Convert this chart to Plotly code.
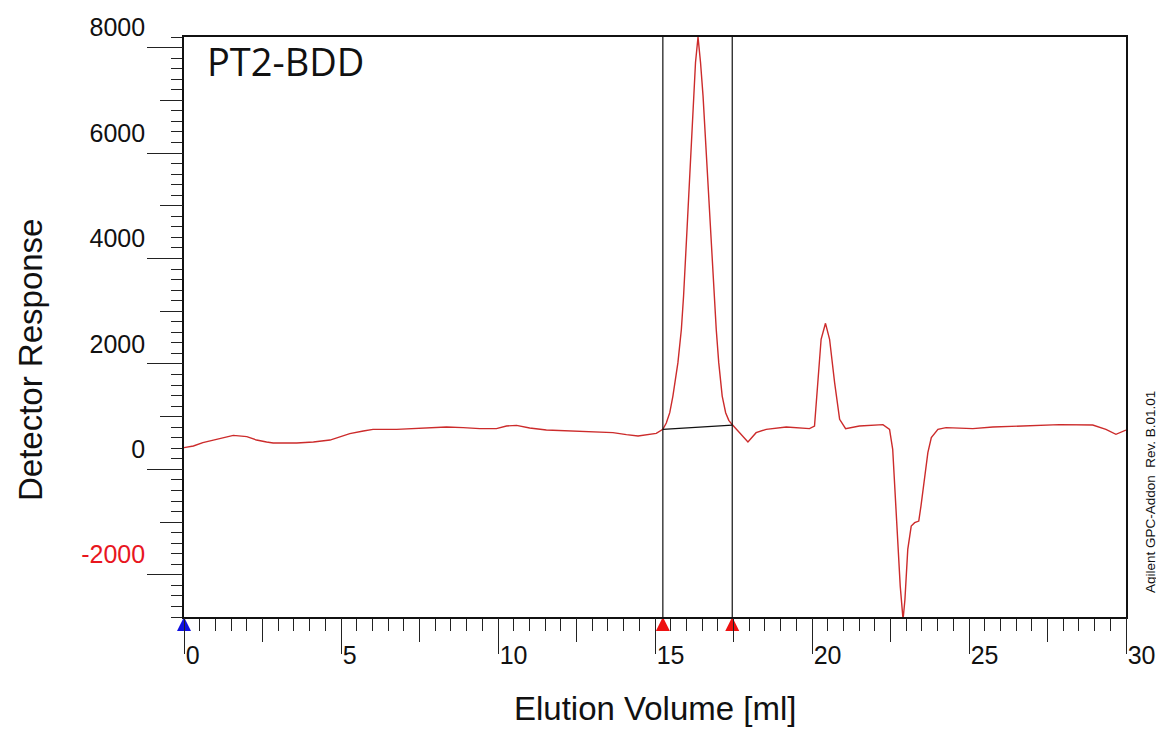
import plotly.graph_objects as go

# ---- data ----
elution_ml = [0.0, 0.3, 0.6, 0.93, 1.25, 1.57, 2.0, 2.31, 2.63, 2.84, 3.59, 4.12, 4.65, 4.97,
              5.28, 5.71, 6.02, 6.77, 7.72, 8.36, 8.89, 9.42, 9.95, 10.27, 10.59, 11.01, 11.54,
              12.39, 13.03, 13.66, 14.09, 14.46, 15.04, 15.25, 15.36, 15.47, 15.57, 15.73, 15.84,
              15.91, 16.02, 16.12, 16.23, 16.29, 16.37, 16.45, 16.53, 16.65, 16.77, 16.88, 16.95,
              17.03, 17.14, 17.25, 17.35, 17.45, 17.96, 18.22, 18.54, 19.18, 19.92, 20.08, 20.19,
              20.29, 20.43, 20.56, 20.72, 20.88, 21.07, 21.51, 22.26, 22.47, 22.57, 22.66, 22.73,
              22.81, 22.90, 22.96, 23.05, 23.16, 23.27, 23.40, 23.47, 23.58, 23.69, 23.80, 24.01,
              24.27, 25.12, 25.76, 26.82, 27.88, 28.94, 29.36, 29.68, 30.0]
response = [412, 443, 506, 556, 601, 645, 620, 556, 518, 499, 499, 518, 556, 620,
            677, 727, 759, 759, 791, 803, 791, 772, 772, 822, 835, 784, 746,
            727, 708, 696, 658, 632, 683, 760, 880, 1075, 1391, 2024, 2657,
            3289, 4554, 5820, 7084, 7717, 8200, 7717, 7084, 5820, 4554, 3289, 2657,
            2024, 1391, 1075, 930, 854, 518, 696, 759, 803, 772, 822, 1645,
            2467, 2770, 2467, 1645, 949, 772, 822, 848, 759, 380, -569, -1518,
            -2214, -2850, -2467, -1518, -1075, -1012, -980, -696, -190, 316, 601, 759,
            791, 772, 803, 822, 848, 841, 759, 664, 746]

integration_limits = [15.25, 17.46]
baseline_response = [760, 840]
start_marker = [0.0]

x_range = [0, 30]
y_range = [-2800, 8200]
x_tickvals = [0, 5, 10, 15, 20, 25, 30]
x_ticktext = ["0", "5", "10", "15", "20", "25", "30"]
y_tickvals = [-2000, 0, 2000, 4000, 6000, 8000]
y_ticktext = ['<span style="color:#e8161e">-2000</span>', "0", "2000", "4000", "6000", "8000"]

TICKFONT = dict(family="Liberation Sans, Arial, sans-serif", size=25, color="#111")
TITLEFONT = dict(family="Liberation Sans, Arial, sans-serif", size=33, color="#111")

fig = go.Figure()

fig.add_trace(go.Scatter(x=elution_ml, y=response, mode="lines",
                         line=dict(color="#cc2b2b", width=1.4), showlegend=False,
                         hoverinfo="skip"))

# integration limits (vertical lines spanning the axis range)
vx, vy = [], []
for lim in integration_limits:
    vx += [lim, lim, None]
    vy += [y_range[0], y_range[1], None]
fig.add_trace(go.Scatter(x=vx, y=vy, mode="lines", line=dict(color="#111", width=1.2),
                         showlegend=False, hoverinfo="skip"))

# baseline under the peak
fig.add_trace(go.Scatter(x=integration_limits, y=baseline_response, mode="lines",
                         line=dict(color="#111", width=1.2), showlegend=False, hoverinfo="skip"))

# markers on the x axis
fig.add_trace(go.Scatter(x=start_marker, y=[y_range[0]] * len(start_marker), mode="markers",
                         marker=dict(symbol="arrow-up", size=14, color="#1010e0",
                                     line=dict(width=0)),
                         cliponaxis=False, showlegend=False, hoverinfo="skip"))
fig.add_trace(go.Scatter(x=integration_limits, y=[y_range[0]] * len(integration_limits),
                         mode="markers",
                         marker=dict(symbol="arrow-up", size=14, color="#ee1111",
                                     line=dict(width=0)),
                         cliponaxis=False, showlegend=False, hoverinfo="skip"))

# helper trace for the overlay tick axes
fig.add_trace(go.Scatter(x=[None], y=[None], xaxis="x2", yaxis="y2", showlegend=False,
                         hoverinfo="skip"))

fig.update_layout(
    width=1156, height=721,
    margin=dict(l=176, r=38, t=29, b=112, autoexpand=False),
    paper_bgcolor="white", plot_bgcolor="white",
    xaxis=dict(range=x_range, showgrid=False, zeroline=False, automargin=False,
               showline=True, mirror=True, linecolor="#111", linewidth=2,
               ticks="outside", tickmode="array", tickvals=x_tickvals, ticktext=x_ticktext,
               ticklen=35, tickwidth=1.3, tickcolor="#222",
               minor=dict(tickmode="linear", tick0=0, dtick=0.5, ticks="outside",
                          ticklen=12, tickwidth=1.3, tickcolor="#222", showgrid=False),
               ticklabelposition="outside right", ticklabelstandoff=15,
               tickfont=TICKFONT),
    xaxis2=dict(range=x_range, overlaying="x", anchor="y", side="bottom", automargin=False,
                showgrid=False, zeroline=False, showline=False,
                tickmode="linear", tick0=0, dtick=2.5, ticks="outside",
                ticklen=24, tickwidth=1.3, tickcolor="#222", showticklabels=False),
    yaxis=dict(range=y_range, showgrid=False, zeroline=False, automargin=False,
               showline=True, mirror=True, linecolor="#111", linewidth=1.6,
               ticks="outside", tickmode="array", tickvals=y_tickvals, ticktext=y_ticktext,
               ticklen=35, tickwidth=1.3, tickcolor="#222",
               minor=dict(tickmode="linear", tick0=0, dtick=200, ticks="outside",
                          ticklen=11, tickwidth=1.3, tickcolor="#222", showgrid=False),
               ticklabelposition="outside top", ticklabelshift=-2, ticklabelstandoff=32,
               tickfont=TICKFONT),
    yaxis2=dict(range=y_range, overlaying="y", anchor="x", side="left", automargin=False,
                showgrid=False, zeroline=False, showline=False,
                tickmode="linear", tick0=0, dtick=1000, ticks="outside",
                ticklen=23, tickwidth=1.3, tickcolor="#222", showticklabels=False),
    annotations=[
        dict(text="Detector Response", xref="paper", yref="paper", x=-0.1635, y=0.443,
             textangle=-90, showarrow=False, font=TITLEFONT,
             xanchor="center", yanchor="middle"),
        dict(text="Elution Volume [ml]", xref="paper", yref="paper", x=0.5, y=-0.1569,
             showarrow=False, font=TITLEFONT, xanchor="center", yanchor="middle"),
        dict(text="Agilent GPC-Addon  Rev. B.01.01", xref="paper", yref="paper",
             x=1.0255, y=0.2155, textangle=-90, showarrow=False,
             font=dict(family="Liberation Sans, Arial, sans-serif", size=13.5, color="#111"),
             xanchor="center", yanchor="middle"),
        dict(text="PT2-BDD", xref="paper", yref="paper", x=0.022, y=0.958,
             showarrow=False, font=dict(family="Open Sans, sans-serif", size=38, color="#111"),
             xanchor="left", yanchor="middle"),
    ],
)

fig.write_html("out.html")
